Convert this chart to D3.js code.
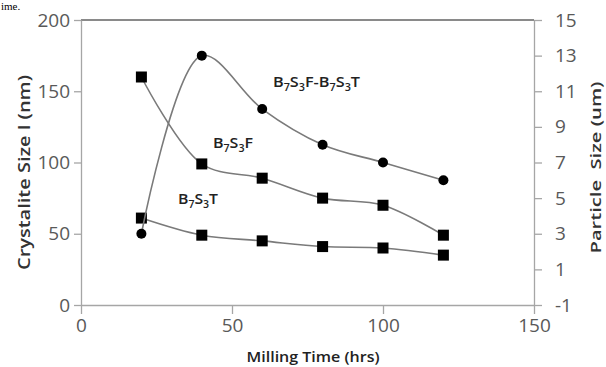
<!DOCTYPE html>
<html>
<head>
<meta charset="utf-8">
<script src="https://cdn.jsdelivr.net/npm/d3@7"></script>
<style>
  body { margin: 0; background: #fff; }
  svg { display: block; }
</style>
</head>
<body>
<svg id="chart" width="606" height="367"></svg>
<script>
// milling time (hrs)
var millingTime = [20, 40, 60, 80, 100, 120];
// crystallite size (nm), left axis
var crystF = [160, 99, 89, 75, 70, 49];   // B7S3F
var crystT = [61, 49, 45, 41, 40, 35];    // B7S3T
// particle size (um), right axis
var particle = [3, 13, 10, 8, 7, 6];      // B7S3F-B7S3T

var xTicks = [0, 50, 100, 150];
var yLeftTicks = [0, 50, 100, 150, 200];
var yRightTicks = [-1, 1, 3, 5, 7, 9, 11, 13, 15];

var svg = d3.select("#chart");

var x = d3.scaleLinear().domain([0, 150]).range([81, 534]);
var yL = d3.scaleLinear().domain([0, 200]).range([305, 20]);
var yR = d3.scaleLinear().domain([-1, 15]).range([305, 20]);

var axisColor = "#a6a6a6";
var tickFont = "'Open Sans', sans-serif";

// text of the page above the figure
svg.append("text")
  .attr("x", 1).attr("y", 10)
  .style("font-family", "'Liberation Serif', serif")
  .style("font-size", "11px")
  .attr("fill", "#000")
  .text("ime.");

function styleAxis(g) {
  g.select(".domain").attr("stroke", axisColor).attr("stroke-width", 1.3);
  g.selectAll(".tick line").attr("stroke", axisColor).attr("stroke-width", 1.3);
  g.selectAll(".tick text")
    .attr("fill", "#595959")
    .style("font-family", tickFont)
    .style("font-size", "19px");
}

// top border of the plot
svg.append("line")
  .attr("x1", x(0)).attr("x2", x(150))
  .attr("y1", yL(200)).attr("y2", yL(200))
  .attr("stroke", "#8a8a8a").attr("stroke-width", 2.2);

var gx = svg.append("g")
  .attr("transform", "translate(0," + yL(0) + ")")
  .call(d3.axisBottom(x).tickValues(xTicks).tickSize(9).tickSizeOuter(0).tickPadding(5));
styleAxis(gx);

var gl = svg.append("g")
  .attr("transform", "translate(" + x(0) + ",0)")
  .call(d3.axisLeft(yL).tickValues(yLeftTicks).tickSize(7).tickSizeOuter(0).tickPadding(4));
styleAxis(gl);

var gr = svg.append("g")
  .attr("transform", "translate(" + x(150) + ",0)")
  .call(d3.axisRight(yR).tickValues(yRightTicks).tickSize(8).tickSizeOuter(0).tickPadding(13));
styleAxis(gr);
gr.selectAll(".tick text").text(function (d) { return d < 0 ? "-" + Math.abs(d) : d; });

// series
var series = [
  { values: crystF, y: yL, marker: "square" },
  { values: crystT, y: yL, marker: "square" },
  { values: particle, y: yR, marker: "circle" }
];

series.forEach(function (s) {
  var pts = millingTime.map(function (t, i) { return [t, s.values[i]]; });
  var line = d3.line()
    .x(function (d) { return x(d[0]); })
    .y(function (d) { return s.y(d[1]); })
    .curve(d3.curveCatmullRom.alpha(0.5));

  svg.append("path")
    .datum(pts)
    .attr("d", line)
    .attr("fill", "none")
    .attr("stroke", "#7a7a7a")
    .attr("stroke-width", 1.6);

  if (s.marker === "square") {
    svg.selectAll(null).data(pts).enter().append("rect")
      .attr("x", function (d) { return x(d[0]) - 5.5; })
      .attr("y", function (d) { return s.y(d[1]) - 5.5; })
      .attr("width", 11).attr("height", 11)
      .attr("fill", "#000");
  } else {
    svg.selectAll(null).data(pts).enter().append("circle")
      .attr("cx", function (d) { return x(d[0]); })
      .attr("cy", function (d) { return s.y(d[1]); })
      .attr("r", 5)
      .attr("fill", "#000");
  }
});

// series labels with subscripts
function label(parts, lx, ly, width) {
  var t = svg.append("text")
    .attr("x", lx).attr("y", ly)
    .attr("fill", "#222")
    .style("font-family", "'Open Sans', sans-serif")
    .style("font-weight", 600)
    .style("font-size", "15px");
  var shifted = false;
  parts.forEach(function (p) {
    var sub = /^[0-9]$/.test(p);
    var ts = t.append("tspan").text(p);
    if (sub && !shifted) { ts.attr("dy", 4).style("font-size", "10px"); shifted = true; }
    else if (sub) { ts.style("font-size", "10px"); }
    else if (shifted) { ts.attr("dy", -4); shifted = false; }
  });
  t.attr("textLength", width).attr("lengthAdjust", "spacingAndGlyphs");
}

label(["B", "7", "S", "3", "F-B", "7", "S", "3", "T"], 273, 87, 87);
label(["B", "7", "S", "3", "F"], 213, 148, 40);
label(["B", "7", "S", "3", "T"], 178, 204, 40);

// axis titles
svg.append("text")
  .attr("transform", "translate(30,172.5) rotate(-90)")
  .attr("text-anchor", "middle")
  .attr("fill", "#333")
  .style("font-family", "'Open Sans', sans-serif")
  .style("font-weight", 600)
  .style("font-size", "16px")
  .attr("textLength", 195).attr("lengthAdjust", "spacingAndGlyphs")
  .text("Crystalite Size l (nm)");

svg.append("text")
  .attr("transform", "translate(601,167.5) rotate(-90)")
  .attr("text-anchor", "middle")
  .attr("fill", "#333")
  .style("font-family", "'Open Sans', sans-serif")
  .style("font-weight", 600)
  .style("font-size", "15px")
  .style("white-space", "pre")
  .attr("textLength", 172).attr("lengthAdjust", "spacingAndGlyphs")
  .text("Particle  Size (um)");

svg.append("text")
  .attr("x", 313).attr("y", 362)
  .attr("text-anchor", "middle")
  .attr("fill", "#222")
  .style("font-family", "'Open Sans', sans-serif")
  .style("font-weight", 600)
  .style("font-size", "15px")
  .attr("textLength", 133).attr("lengthAdjust", "spacingAndGlyphs")
  .text("Milling Time (hrs)");
</script>
</body>
</html>
